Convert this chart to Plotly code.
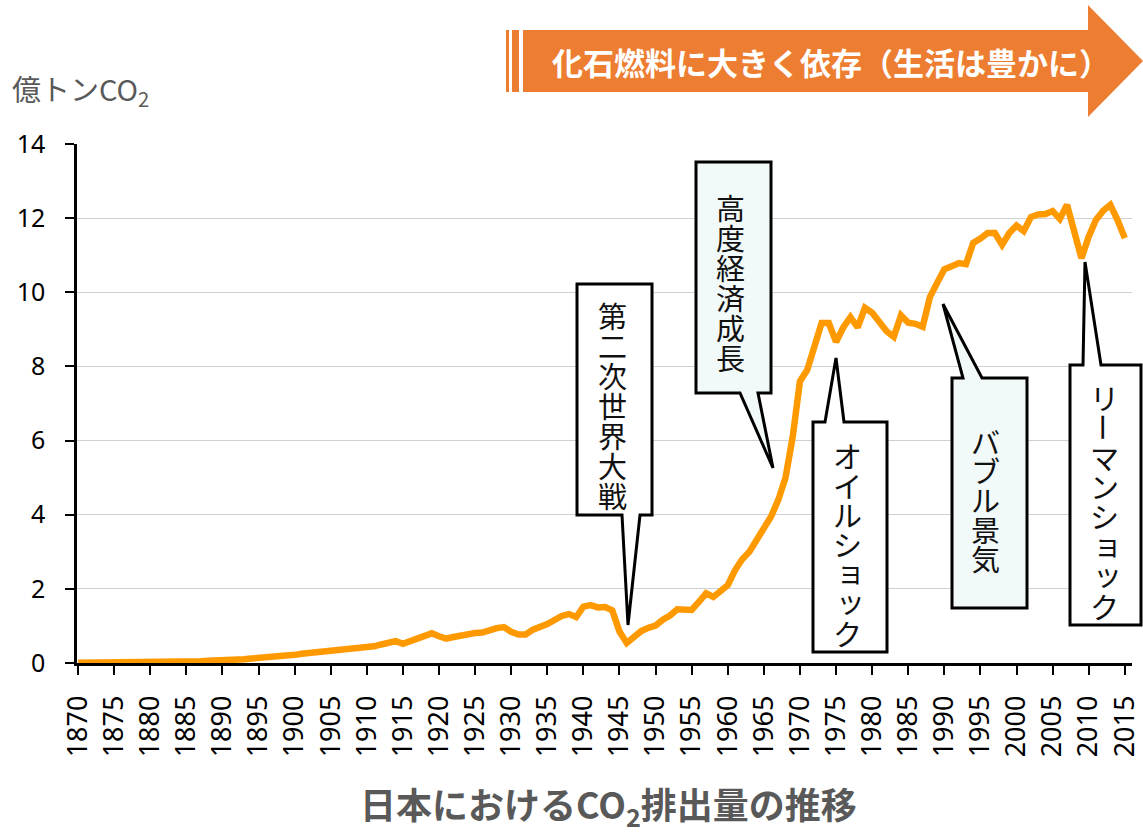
import plotly.graph_objects as go

# ---------------- data ----------------
years = list(range(1870, 2016))
co2 = [
    # 1870-1879
    0.01, 0.01, 0.01, 0.02, 0.02, 0.02, 0.03, 0.03, 0.03, 0.03,
    # 1880-1889
    0.03, 0.03, 0.04, 0.04, 0.04, 0.05, 0.05, 0.05, 0.06, 0.06,
    # 1890-1899
    0.07, 0.08, 0.08, 0.10, 0.12, 0.13, 0.15, 0.16, 0.18, 0.20,
    # 1900-1909
    0.22, 0.25, 0.27, 0.29, 0.31, 0.32, 0.34, 0.36, 0.38, 0.39,
    # 1910-1919
    0.41, 0.45, 0.50, 0.56, 0.59, 0.52, 0.60, 0.66, 0.73, 0.80,
    # 1920-1929
    0.72, 0.66, 0.70, 0.74, 0.80, 0.81, 0.82, 0.90, 0.94, 0.97,
    # 1930-1939
    0.84, 0.77, 0.77, 0.90, 0.96, 1.05, 1.16, 1.27, 1.32, 1.24,
    # 1940-1949
    1.52, 1.56, 1.50, 1.51, 1.42, 0.85, 0.54, 0.72, 0.86, 0.95,
    # 1950-1959
    1.01, 1.17, 1.28, 1.45, 1.45, 1.43, 1.65, 1.88, 1.78, 1.95,
    # 1960-1969
    2.10, 2.50, 2.80, 3.00, 3.30, 3.65, 3.95, 4.40, 5.00, 6.10,
    # 1970-1979
    7.60, 7.90, 8.60, 9.17, 9.17, 8.66, 9.05, 9.33, 9.05, 9.58,
    # 1980-1989
    9.45, 9.20, 8.95, 8.80, 9.38, 9.18, 9.15, 9.07, 9.87, 10.25,
    # 1990-1999
    10.62, 10.70, 10.79, 10.76, 11.33, 11.45, 11.60, 11.60, 11.28, 11.60,
    # 2000-2009
    11.80, 11.65, 12.03, 12.10, 12.11, 12.19, 11.98, 12.36, 11.60, 10.92,
    # 2010-2015
    11.50, 11.95, 12.20, 12.36, 11.95, 11.46,
]
y_ticks = [0, 2, 4, 6, 8, 10, 12, 14]
x_ticks = list(range(1870, 2016, 5))

y_title = "億トンCO<sub>2</sub>"
chart_title = "日本におけるCO<sub>2</sub>排出量の推移"
banner_text = "化石燃料に大きく依存（生活は豊かに）"
callout_labels = ["第二次世界大戦", "高度経済成長", "オイルショック", "バブル景気", "リーマンショック"]

# ---------------- layout helpers ----------------
W, H = 1143, 832
L, R, T, B = 77, 11, 144, 169
PW, PH = W - L - R, H - T - B


def px(x):
    return (x - L) / PW


def py(y):
    return (H - B - y) / PH


fig = go.Figure()
fig.add_trace(go.Scatter(
    x=years, y=co2, mode="lines",
    line=dict(color="#FF9900", width=6.5),
    hoverinfo="x+y", showlegend=False,
))

shapes = []
annotations = []

# banner arrow
banner_path = "M {} {} L {} {} L {} {} L {} {} L {} {} L {} {} L {} {} Z".format(
    px(523), py(30), px(1088), py(30), px(1088), py(5), px(1143), py(61),
    px(1088), py(117), px(1088), py(92), px(523), py(92))
shapes.append(dict(type="path", xref="paper", yref="paper", path=banner_path,
                   fillcolor="#ED7D31", line=dict(width=0), layer="above"))
for x0, x1 in [(506, 509), (512, 519)]:
    shapes.append(dict(type="rect", xref="paper", yref="paper",
                       x0=px(x0), x1=px(x1), y0=py(92), y1=py(30),
                       fillcolor="#ED7D31", line=dict(width=0), layer="above"))
annotations.append(dict(xref="paper", yref="paper", x=px(831), y=py(61),
                        text="<b>" + banner_text + "</b>", showarrow=False,
                        xanchor="center", yanchor="middle",
                        font=dict(family="Noto Sans CJK JP", size=31, color="white")))

# callouts: box (l, t, r, b), pointer side, pointer base x, tip, fill, text x, first char y, pitch
callout_geom = [
    dict(box=(577, 284, 652, 515), side="bottom", base=(622, 640), tip=(628, 625),
         fill="#FFFFFF", tx=612, ty=315, pitch=30),
    dict(box=(696, 162, 771, 393), side="bottom", base=(740, 758), tip=(773, 468),
         fill="#F2F9F9", tx=730, ty=207, pitch=30),
    dict(box=(813, 422, 887, 652), side="top", base=(825, 844), tip=(836, 358),
         fill="#FFFFFF", tx=847, ty=455, pitch=29.6),
    dict(box=(952, 378, 1027, 608), side="top", base=(963, 982), tip=(943, 304),
         fill="#F2F9F9", tx=985, ty=441, pitch=29.2),
    dict(box=(1070, 365, 1141, 625), side="top", base=(1083, 1101), tip=(1085, 262),
         fill="#FFFFFF", tx=1104, ty=397, pitch=29.8),
]

for label, g in zip(callout_labels, callout_geom):
    l, t, r, b = g["box"]
    b1, b2 = g["base"]
    tx_, ty_ = g["tip"]
    if g["side"] == "bottom":
        pts = [(l, t), (r, t), (r, b), (b2, b), (tx_, ty_), (b1, b), (l, b)]
    else:
        pts = [(l, t), (b1, t), (tx_, ty_), (b2, t), (r, t), (r, b), (l, b)]
    path = "M " + " L ".join("{} {}".format(px(a), py(c)) for a, c in pts) + " Z"
    shapes.append(dict(type="path", xref="paper", yref="paper", path=path,
                       fillcolor=g["fill"], line=dict(color="black", width=3),
                       layer="above"))
    for i, ch in enumerate(label):
        cx = g["tx"]
        cy = g["ty"] + i * g["pitch"]
        angle = 0
        if ch == "ー":
            angle = 90
        if ch in "ョッ":
            cx += 3
            cy -= 3
        annotations.append(dict(xref="paper", yref="paper", x=px(cx), y=py(cy),
                                text=ch, showarrow=False, textangle=angle,
                                xanchor="center", yanchor="middle",
                                font=dict(family="Noto Sans CJK JP", size=29,
                                          color="#111111")))

# y-axis title and chart title
annotations.append(dict(xref="paper", yref="paper", x=px(10), y=py(90),
                        text=y_title, showarrow=False, xanchor="left", yanchor="middle",
                        font=dict(family="Noto Sans CJK JP", size=29, color="#595959")))
annotations.append(dict(xref="paper", yref="paper", x=px(608), y=py(805),
                        text="<b>" + chart_title + "</b>", showarrow=False,
                        xanchor="center", yanchor="middle",
                        font=dict(family="Noto Sans CJK JP", size=36, color="#595959")))

fig.update_layout(
    width=W, height=H, autosize=False,
    margin=dict(l=L, r=R, t=T, b=B, pad=0, autoexpand=False),
    paper_bgcolor="white", plot_bgcolor="white",
    shapes=shapes, annotations=annotations,
    font=dict(family="Noto Sans", color="black"),
)
fig.update_xaxes(
    range=[1869.85, 2016], tickmode="array", tickvals=x_ticks,
    ticktext=[str(v) for v in x_ticks], tickangle=-90,
    ticks="outside", ticklen=9, tickwidth=2, tickcolor="black",
    showline=True, linecolor="black", linewidth=2.5,
    showgrid=False, zeroline=False, automargin=False,
    tickfont=dict(family="Noto Sans", size=27, color="black"),
    ticklabelstandoff=10,
)
fig.update_yaxes(
    range=[0, 14], tickmode="array", tickvals=y_ticks,
    ticktext=[str(v) for v in y_ticks],
    ticks="outside", ticklen=9, tickwidth=2, tickcolor="black",
    showline=True, linecolor="black", linewidth=2.5,
    showgrid=True, gridcolor="#D0D0D0", gridwidth=1, zeroline=False,
    automargin=False,
    tickfont=dict(family="Noto Sans", size=25, color="black"),
    ticklabelstandoff=15,
)

fig.write_html(
    "out.html",
    config={"responsive": False, "displayModeBar": False},
    post_script=("document.documentElement.style.overflow='hidden';"
                 "document.body.style.overflow='hidden';"
                 "document.body.style.margin='0';"),
)
